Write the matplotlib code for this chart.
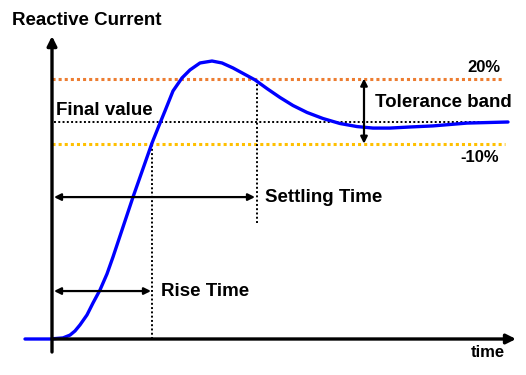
import matplotlib
matplotlib.use("Agg")
from matplotlib import pyplot as plt

# step response of the reactive current (time, value relative to final value)
t_resp = [-0.27, -0.02, 0.11, 0.18, 0.23, 0.28, 0.35, 0.41, 0.48, 0.55, 0.61,
          0.81, 1.00, 1.06, 1.13, 1.21, 1.30, 1.38, 1.48, 1.60, 1.70, 1.81,
          1.95, 2.03, 2.15, 2.28, 2.41, 2.55, 2.71, 2.88, 3.05, 3.21, 3.38,
          3.58, 3.81, 4.15, 4.56]
v_resp = [0.000, 0.000, 0.005, 0.018, 0.037, 0.065, 0.111, 0.166, 0.226, 0.300, 0.378,
          0.654, 0.903, 0.972, 1.051, 1.143, 1.203, 1.240, 1.272, 1.281, 1.272, 1.249,
          1.214, 1.194, 1.154, 1.113, 1.076, 1.044, 1.016, 0.993, 0.979, 0.972, 0.972,
          0.977, 0.982, 0.995, 1.000]

final_value = 1.0
band_upper = 1.2    # +20%
band_lower = 0.9    # -10%
rise_time = 1.0
settling_time = 2.05

orange = '#ED7D31'
yellow = '#FFC000'
blue = '#0000FF'

fig = plt.figure(figsize=(5.26, 3.75), dpi=100)
ax = fig.add_axes([0, 0, 1, 1])
ax.set_xlim(-0.52, 4.74)
ax.set_ylim(-0.1659, 1.5622)
ax.axis('off')

# tolerance band and final value
ax.plot([0, 4.50], [band_upper, band_upper], color=orange, lw=2.2, ls=(0, (1, 1)))
ax.plot([0, 4.53], [band_lower, band_lower], color=yellow, lw=2.2, ls=(0, (1, 1)))
ax.plot([0.02, 4.56], [final_value, final_value], color='black', lw=1.4, ls=(0, (1, 1.2)))

# vertical markers
ax.plot([rise_time, rise_time], [0, band_lower], color='black', lw=1.4, ls=(0, (1, 1.2)))
ax.plot([settling_time, settling_time], [0.535, band_upper], color='black', lw=1.4, ls=(0, (1, 1.2)))

# response curve
ax.plot(t_resp, v_resp, color=blue, lw=2.4, solid_joinstyle='round', solid_capstyle='round', zorder=3)

# axes with arrows
ax.annotate('', xy=(0, 1.396), xytext=(0, -0.06),
            arrowprops=dict(arrowstyle='-|>', color='black', lw=2.4, mutation_scale=14, shrinkA=0, shrinkB=0), zorder=4)
ax.annotate('', xy=(4.64, 0), xytext=(0, 0),
            arrowprops=dict(arrowstyle='-|>', color='black', lw=2.4, mutation_scale=14, shrinkA=0, shrinkB=0), zorder=4)

# double arrows
dbl = dict(arrowstyle='<|-|>', color='black', lw=1.6, mutation_scale=10, shrinkA=0, shrinkB=0)
ax.annotate('', xy=(0.02, 0.654), xytext=(2.03, 0.654), arrowprops=dbl)
ax.annotate('', xy=(0.02, 0.221), xytext=(0.99, 0.221), arrowprops=dbl)
ax.annotate('', xy=(3.12, band_upper), xytext=(3.12, band_lower), arrowprops=dbl)

# labels
fnt = dict(family=['Liberation Sans', 'DejaVu Sans'], weight='bold', color='black', va='baseline', ha='left')
ax.text(-0.40, 1.447, 'Reactive Current', fontsize=13.5, **fnt)
ax.text(0.04, 1.032, 'Final value', fontsize=13.5, **fnt)
ax.text(4.15, 1.230, '20%', fontsize=12, **fnt)
ax.text(3.23, 1.069, 'Tolerance band', fontsize=13.5, **fnt)
ax.text(4.08, 0.816, '-10%', fontsize=12, **fnt)
ax.text(2.13, 0.631, 'Settling Time', fontsize=13.5, **fnt)
ax.text(1.09, 0.198, 'Rise Time', fontsize=13.5, **fnt)
ax.text(4.19, -0.083, 'time', fontsize=12, **fnt)

plt.savefig('out.png', dpi=100)
